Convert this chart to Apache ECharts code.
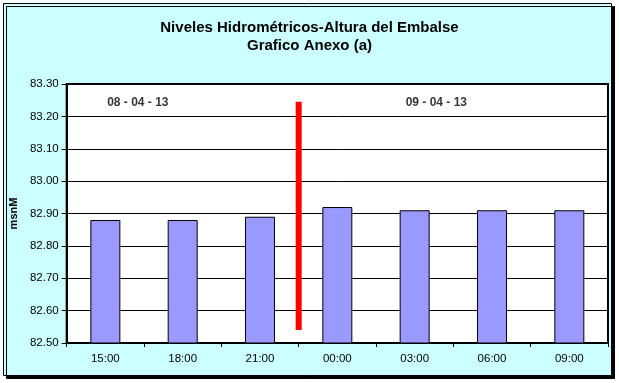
<!DOCTYPE html>
<html>
<head>
<meta charset="utf-8">
<script src="https://cdn.jsdelivr.net/npm/echarts@6/dist/echarts.min.js"></script>
<style>
html,body{margin:0;padding:0;background:#fff;}
#c{width:619px;height:383px;}
</style>
</head>
<body>
<div id="c"></div>
<script>
var categories = ['15:00','18:00','21:00','00:00','03:00','06:00','09:00'];
var levels = [82.88, 82.88, 82.89, 82.92, 82.91, 82.91, 82.91];
var yTicks = {min: 82.5, max: 83.3, interval: 0.1};
// day separator (category boundary position) and its vertical extent
var separatorX = 3;
var separatorRange = [82.54, 83.245];
// day annotations: [position along categories, level, text]
var dayLabels = [[0.92, 83.241, '08 - 04 - 13'], [4.78, 83.241, '09 - 04 - 13']];

var chart = echarts.init(document.getElementById('c'));
var font = '"Liberation Sans", Arial, sans-serif';
chart.setOption({
  animation: false,
  backgroundColor: '#ffffff',
  graphic: [{
    type: 'rect', z: -10, silent: true,
    shape: {x: 3.5, y: 3.5, width: 608, height: 372},
    style: {fill: '#CCFFFF', stroke: '#000', lineWidth: 1,
            shadowColor: '#000', shadowOffsetX: 3, shadowOffsetY: 3, shadowBlur: 0}
  }],
  title: {
    text: 'Niveles Hidrométricos-Altura del Embalse\nGrafico Anexo (a)',
    left: 'center', top: 14, padding: [5, 21, 5, 5],
    textStyle: {fontFamily: font, fontSize: 15, fontWeight: 'bold', color: '#000', lineHeight: 18}
  },
  grid: {left: 66, right: 11, top: 84, bottom: 40, show: true,
         backgroundColor: '#fff', borderColor: '#000', borderWidth: 2},
  xAxis: [{
    type: 'category', data: categories, boundaryGap: true,
    axisLine: {lineStyle: {color: '#000', width: 2}},
    axisTick: {show: true, alignWithLabel: false, length: 4, lineStyle: {color: '#000'}},
    axisLabel: {fontFamily: font, fontSize: 11.5, color: '#000', margin: 10}
  }, {
    type: 'value', min: 0, max: categories.length, show: false
  }],
  yAxis: {
    type: 'value', min: yTicks.min, max: yTicks.max, interval: yTicks.interval,
    name: 'msnM', nameLocation: 'middle', nameGap: 46, nameRotate: 90,
    nameTextStyle: {fontFamily: font, fontSize: 11, fontWeight: 'bold', color: '#000'},
    axisLine: {show: true, lineStyle: {color: '#000', width: 2}},
    axisTick: {show: true, length: 5, lineStyle: {color: '#000'}},
    splitLine: {lineStyle: {color: '#000', width: 1}},
    axisLabel: {fontFamily: font, fontSize: 11.5, color: '#000', margin: 8,
                formatter: function(v){ return v.toFixed(2); }}
  },
  series: [{
    type: 'bar', data: levels, barWidth: 30,
    itemStyle: {color: '#9999FF', borderColor: '#000', borderWidth: 1}
  }, {
    type: 'line', xAxisIndex: 1, symbol: 'none',
    data: [[separatorX, separatorRange[0]], [separatorX, separatorRange[1]]],
    lineStyle: {color: '#FF0000', width: 6, cap: 'butt'}, z: 5
  }, {
    type: 'scatter', xAxisIndex: 1, symbolSize: 0,
    data: dayLabels.map(function(d){ return {value: [d[0], d[1]], name: d[2]}; }),
    label: {show: true, position: 'inside', formatter: function(p){ return p.name; },
            fontFamily: '"Liberation Sans Narrow", "Liberation Sans", Arial, sans-serif',
            fontSize: 12, fontWeight: 'bold', color: '#000'}
  }]
});
</script>
</body>
</html>
